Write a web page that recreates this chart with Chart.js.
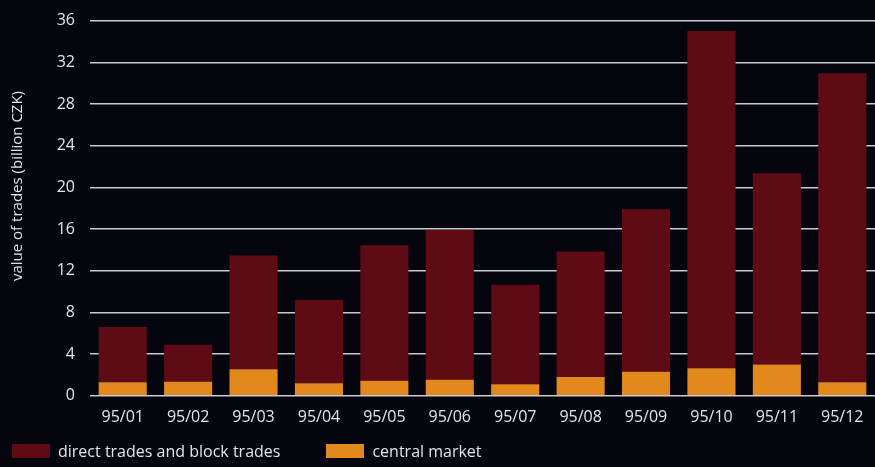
<!DOCTYPE html>
<html>
<head>
<meta charset="utf-8">
<script src="https://cdn.jsdelivr.net/npm/chart.js@4.4.1/dist/chart.umd.min.js"></script>
<style>
  html, body { margin: 0; padding: 0; background: #05050e; }
  #wrap { position: relative; width: 875px; height: 467px; overflow: hidden; }
  #plot { position: absolute; left: 0; top: -4px; width: 875px; height: 471px; }
  #legend { position: absolute; left: 12px; top: 440px; display: flex; align-items: center;
            font: 16px 'Open Sans', sans-serif; color: #e4e4ea; }
  #legend .item { display: flex; align-items: center; margin-right: 46px; }
  #legend .swatch { width: 38px; height: 14px; margin-right: 8px; }
</style>
</head>
<body>
<div id="wrap">
  <div id="plot"><canvas id="trades"></canvas></div>
  <div id="legend"></div>
</div>
<script>
const months = ['95/01', '95/02', '95/03', '95/04', '95/05', '95/06', '95/07', '95/08', '95/09', '95/10', '95/11', '95/12'];
// billion CZK per month
const centralMarket = [1.3, 1.35, 2.55, 1.2, 1.45, 1.55, 1.1, 1.8, 2.3, 2.65, 3.0, 1.3];
const directBlock = [5.3, 3.55, 10.9, 8.0, 13.0, 14.35, 9.55, 12.05, 15.6, 32.35, 18.35, 29.65];
const yTicks = [0, 4, 8, 12, 16, 20, 24, 28, 32, 36];

const textColor = '#e4e4ea';
const fontFamily = "'Open Sans', sans-serif";

// rotated y-axis caption, placed a little above the axis middle
const yCaption = {
  id: 'yCaption',
  afterDraw(chart) {
    const ctx = chart.ctx;
    ctx.save();
    ctx.translate(18, 190);
    ctx.rotate(-Math.PI / 2);
    ctx.fillStyle = textColor;
    ctx.font = `15px ${fontFamily}`;
    ctx.textAlign = 'center';
    ctx.textBaseline = 'middle';
    ctx.fillText('value of trades (billion CZK)', 0, 0);
    ctx.restore();
  },
};

const chart = new Chart(document.getElementById('trades'), {
  type: 'bar',
  data: {
    labels: months,
    datasets: [
      {
        label: 'central market',
        data: centralMarket,
        backgroundColor: '#e2881c',
      },
      {
        label: 'direct trades and block trades',
        data: directBlock,
        backgroundColor: '#5e0b15',
      },
    ],
  },
  options: {
    responsive: true,
    maintainAspectRatio: false,
    animation: false,
    layout: { padding: { top: 0, right: 0, left: 0, bottom: 36 } },
    datasets: {
      bar: { categoryPercentage: 1, barPercentage: 0.735 },
    },
    plugins: {
      tooltip: { enabled: false },
      legend: { display: false },
    },
    scales: {
      x: {
        stacked: true,
        grid: { display: false },
        border: { display: false },
        ticks: { color: textColor, font: { family: fontFamily, size: 16 }, padding: 4 },
      },
      y: {
        stacked: true,
        min: 0,
        max: 36,
        afterBuildTicks: (axis) => { axis.ticks = yTicks.map((v) => ({ value: v })); },
        afterFit: (axis) => { axis.width = 90; },
        grid: { color: '#c9c9d2', lineWidth: 1.5, drawTicks: false },
        border: { display: false },
        ticks: { color: textColor, font: { family: fontFamily, size: 16 }, padding: 15 },
      },
    },
  },
  plugins: [yCaption],
});

// legend row: direct trades first, central market second
const legendEl = document.getElementById('legend');
chart.data.datasets.slice().reverse().forEach((ds) => {
  const item = document.createElement('div');
  item.className = 'item';
  const sw = document.createElement('span');
  sw.className = 'swatch';
  sw.style.background = ds.backgroundColor;
  const txt = document.createElement('span');
  txt.textContent = ds.label;
  item.appendChild(sw);
  item.appendChild(txt);
  legendEl.appendChild(item);
});
</script>
</body>
</html>
